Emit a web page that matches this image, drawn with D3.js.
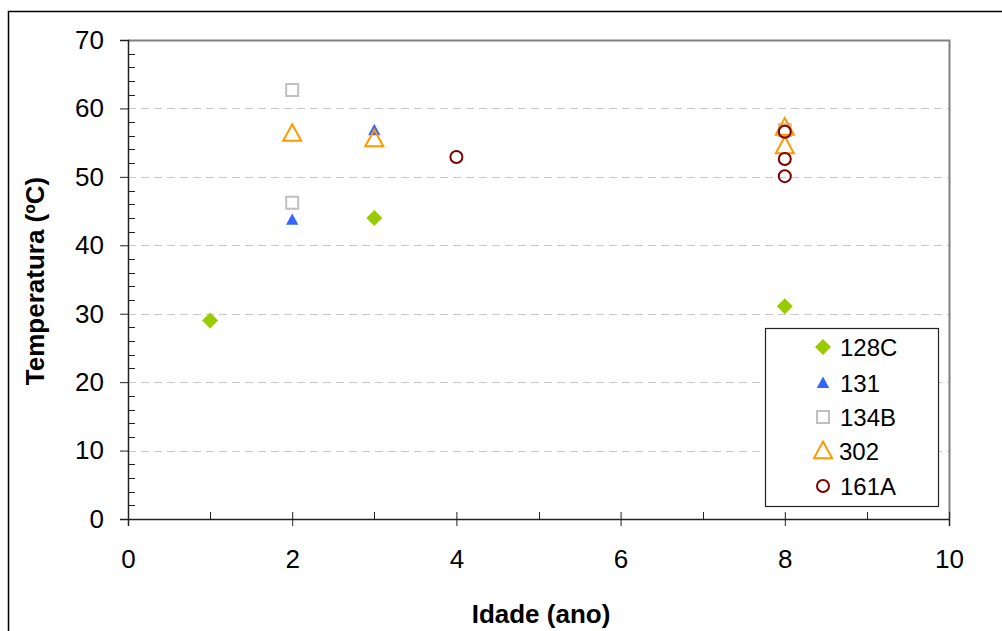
<!DOCTYPE html>
<html>
<head>
<meta charset="utf-8">
<script src="https://cdn.jsdelivr.net/npm/d3@7"></script>
<style>
  html, body { margin: 0; padding: 0; background: #fff; }
  svg { display: block; font-family: Arial, "Liberation Sans", sans-serif; }
</style>
</head>
<body>
<svg id="chart" width="1002" height="631"></svg>
<script>
// Temperature vs. age readings per sample
const seriesNames = ["128C", "131", "134B", "302", "161A"];
const ages128C = [1, 3, 8];
const temps128C = [29, 44, 31.1];
const ages131 = [2, 3];
const temps131 = [43.7, 56.8];
const ages134B = [2, 2, 8];
const temps134B = [62.7, 46.2, 56.8];
const ages302 = [2, 3, 8, 8];
const temps302 = [56.3, 55.5, 57.2, 54.5];
const ages161A = [4, 8, 8, 8];
const temps161A = [52.9, 56.6, 52.6, 50.1];

const xTicks = [0, 2, 4, 6, 8, 10];
const yTicks = [0, 10, 20, 30, 40, 50, 60, 70];
const xTitle = "Idade (ano)";
const yTitle = "Temperatura (ºC)";

const series = [
  { name: seriesNames[0], x: ages128C, y: temps128C, shape: "diamond", fill: "#99CC00", stroke: "none", size: 8 },
  { name: seriesNames[1], x: ages131, y: temps131, shape: "triangle", fill: "#3366FF", stroke: "none", size: 6.5 },
  { name: seriesNames[2], x: ages134B, y: temps134B, shape: "square", fill: "none", stroke: "#C0C0C0", size: 6 },
  { name: seriesNames[3], x: ages302, y: temps302, shape: "triangle", fill: "none", stroke: "#FF9900", size: 9.5 },
  { name: seriesNames[4], x: ages161A, y: temps161A, shape: "circle", fill: "none", stroke: "#800000", size: 6 }
];

const svg = d3.select("#chart");

// outer chart frame
svg.append("rect")
  .attr("x", 8.5).attr("y", 11.5)
  .attr("width", 1010).attr("height", 640)
  .attr("fill", "none").attr("stroke", "#000").attr("stroke-width", 1.5);

const plotLeft = 128, plotRight = 949, plotTop = 40, plotBottom = 519;
const x = d3.scaleLinear().domain([0, 10]).range([plotLeft, plotRight]);
const y = d3.scaleLinear().domain([0, 70]).range([plotBottom, plotTop]);

// dashed gridlines
svg.append("g").selectAll("line")
  .data(yTicks.filter(v => v > 0 && v < 70))
  .join("line")
  .attr("x1", plotLeft).attr("x2", plotRight)
  .attr("y1", d => Math.round(y(d)) + 0.5).attr("y2", d => Math.round(y(d)) + 0.5)
  .attr("stroke", "#C8C8C8").attr("stroke-width", 1)
  .attr("stroke-dasharray", "8,5");

// top and right plot border
svg.append("path")
  .attr("d", `M${plotLeft},${plotTop + 0.5}H${plotRight + 0.5}V${plotBottom}`)
  .attr("fill", "none").attr("stroke", "#808080").attr("stroke-width", 2);

// minor ticks (inside)
const yMinor = d3.range(0, 71, 2).filter(v => v % 10 !== 0);
svg.append("g").selectAll("line").data(yMinor).join("line")
  .attr("x1", plotLeft).attr("x2", plotLeft + 7)
  .attr("y1", d => Math.round(y(d)) + 0.5).attr("y2", d => Math.round(y(d)) + 0.5)
  .attr("stroke", "#222").attr("stroke-width", 1);
const xMinor = d3.range(1, 10, 2);
svg.append("g").selectAll("line").data(xMinor).join("line")
  .attr("x1", d => Math.round(x(d)) + 0.5).attr("x2", d => Math.round(x(d)) + 0.5)
  .attr("y1", plotBottom - 7).attr("y2", plotBottom)
  .attr("stroke", "#222").attr("stroke-width", 1);

// y axis
const yAxis = svg.append("g")
  .attr("transform", `translate(${plotLeft},0)`)
  .call(d3.axisLeft(y).tickValues(yTicks).tickSize(8).tickPadding(16).tickFormat(d3.format("d")));
yAxis.select(".domain").attr("stroke", "#222").attr("stroke-width", 1.5);
yAxis.selectAll(".tick line").attr("stroke", "#222");
yAxis.selectAll(".tick text").attr("font-size", 26).attr("fill", "#000")
  .attr("font-family", "Arial, 'Liberation Sans', sans-serif");

// x axis
const xAxis = svg.append("g")
  .attr("transform", `translate(0,${plotBottom})`)
  .call(d3.axisBottom(x).tickValues(xTicks).tickSize(7).tickPadding(24).tickFormat(d3.format("d")));
xAxis.select(".domain").attr("stroke", "#222").attr("stroke-width", 1.5);
xAxis.selectAll(".tick line").attr("y1", -7).attr("stroke", "#222");
xAxis.selectAll(".tick text").attr("font-size", 26).attr("fill", "#000")
  .attr("font-family", "Arial, 'Liberation Sans', sans-serif");

// axis titles
svg.append("text")
  .attr("x", 541).attr("y", 623)
  .attr("text-anchor", "middle")
  .attr("font-size", 26).attr("font-weight", "bold")
  .text(xTitle);
svg.append("text")
  .attr("transform", "translate(44,281) rotate(-90)")
  .attr("text-anchor", "middle")
  .attr("font-size", 26).attr("font-weight", "bold")
  .text(yTitle);

// marker path generator
function markerPath(shape, s) {
  switch (shape) {
    case "diamond": return `M0,${-s}L${s},0L0,${s}L${-s},0Z`;
    case "triangle": return `M0,${-s}L${s * 0.95},${s * 0.75}L${-s * 0.95},${s * 0.75}Z`;
    case "square": return `M${-s},${-s}H${s}V${s}H${-s}Z`;
    case "circle": return d3.arc()({ innerRadius: 0, outerRadius: s, startAngle: 0, endAngle: 2 * Math.PI });
  }
}

function drawMarker(g, sr) {
  g.append("path")
    .attr("d", markerPath(sr.shape, sr.size))
    .attr("fill", sr.fill)
    .attr("stroke", sr.stroke)
    .attr("stroke-width", sr.stroke === "none" ? 0 : 2);
}

// data points
series.forEach(sr => {
  const g = svg.append("g");
  sr.x.forEach((xv, i) => {
    const p = g.append("g").attr("transform", `translate(${x(xv)},${y(sr.y[i])})`);
    drawMarker(p, sr);
  });
});

// legend
const legend = svg.append("g");
legend.append("rect")
  .attr("x", 765.5).attr("y", 328.5).attr("width", 173).attr("height", 178)
  .attr("fill", "#fff").attr("stroke", "#222").attr("stroke-width", 1.2);
const legendY = [347, 383, 417, 451, 486];
series.forEach((sr, i) => {
  const p = legend.append("g").attr("transform", `translate(823,${legendY[i]})`);
  drawMarker(p, sr);
  legend.append("text")
    .attr("x", sr.name === "302" ? 839 : 840).attr("y", legendY[i])
    .attr("dy", "0.36em")
    .attr("font-size", 24)
    .text(sr.name);
});
</script>
</body>
</html>
